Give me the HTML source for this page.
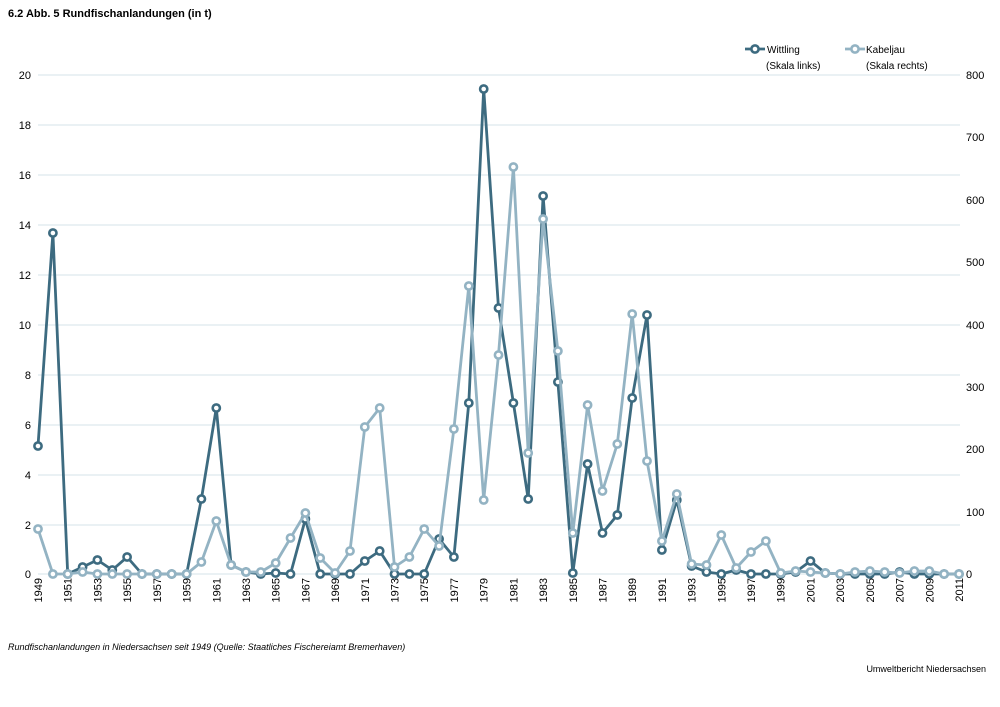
<!DOCTYPE html>
<html><head><meta charset="utf-8"><style>
body{margin:0;background:#fff;width:1000px;height:707px;overflow:hidden}
svg{display:block;font-family:"Liberation Sans",Arial,sans-serif}
</style></head><body>
<svg width="1000" height="707" viewBox="0 0 1000 707">
<defs>
<marker id="md" markerUnits="userSpaceOnUse" markerWidth="12" markerHeight="12" refX="6" refY="6"><circle cx="6" cy="6" r="3.6" fill="#fff" stroke="#3d6b80" stroke-width="2.6"/></marker>
<marker id="ml" markerUnits="userSpaceOnUse" markerWidth="12" markerHeight="12" refX="6" refY="6"><circle cx="6" cy="6" r="3.6" fill="#fff" stroke="#93b3c3" stroke-width="2.6"/></marker>
</defs>
<text x="8" y="17" font-size="11" font-weight="bold">6.2 Abb. 5 Rundfischanlandungen (in t)</text>
<g stroke="#d6e3ea" stroke-width="1">
<line x1="38" y1="75" x2="960" y2="75"/><line x1="38" y1="125" x2="960" y2="125"/><line x1="38" y1="175" x2="960" y2="175"/><line x1="38" y1="225" x2="960" y2="225"/><line x1="38" y1="275" x2="960" y2="275"/><line x1="38" y1="325" x2="960" y2="325"/><line x1="38" y1="375" x2="960" y2="375"/><line x1="38" y1="425" x2="960" y2="425"/><line x1="38" y1="475" x2="960" y2="475"/><line x1="38" y1="525" x2="960" y2="525"/><line x1="38" y1="574" x2="960" y2="574"/>
</g>
<g font-size="11" text-anchor="end">
<text x="31" y="79">20</text><text x="31" y="129">18</text><text x="31" y="179">16</text><text x="31" y="229">14</text><text x="31" y="279">12</text><text x="31" y="329">10</text><text x="31" y="379">8</text><text x="31" y="429">6</text><text x="31" y="479">4</text><text x="31" y="529">2</text><text x="31" y="578">0</text>
</g>
<g font-size="11">
<text x="966" y="79">800</text><text x="966" y="141">700</text><text x="966" y="204">600</text><text x="966" y="266">500</text><text x="966" y="329">400</text><text x="966" y="391">300</text><text x="966" y="453">200</text><text x="966" y="516">100</text><text x="966" y="578">0</text>
</g>
<polyline fill="none" stroke="#3d6b80" stroke-width="2.8" stroke-linejoin="round" marker-start="url(#md)" marker-mid="url(#md)" marker-end="url(#md)" points="38,446 52.9,233 67.7,574 82.6,567 97.4,560 112.3,570 127.1,557 142,574 156.8,574 171.7,574 186.6,574 201.4,499 216.3,408 231.1,565 246,572 260.8,574 275.7,573 290.5,574 305.4,519 320.2,574 335.1,574 350,574 364.8,561 379.7,551 394.5,574 409.4,574 424.2,574 439.1,539 453.9,557 468.8,403 483.7,89 498.5,308 513.4,403 528.2,499 543.1,196 557.9,382 572.8,573 587.6,464 602.5,533 617.3,515 632.2,398 647,315 661.9,550 676.8,500 691.6,566 706.5,572 721.3,574 736.2,570 751,574 765.9,574 780.7,574 795.6,572 810.5,561 825.3,573 840.2,574 855,574 869.9,574 884.7,574 899.6,572 914.4,574 929.3,574 944.1,574 959,574"/>
<polyline fill="none" stroke="#93b3c3" stroke-width="2.8" stroke-linejoin="round" marker-start="url(#ml)" marker-mid="url(#ml)" marker-end="url(#ml)" points="38,529 52.9,574 67.7,574 82.6,572 97.4,574 112.3,574 127.1,574 142,574 156.8,574 171.7,574 186.6,574 201.4,562 216.3,521 231.1,565 246,572 260.8,572 275.7,563 290.5,538 305.4,513 320.2,558 335.1,573 350,551 364.8,427 379.7,408 394.5,567 409.4,557 424.2,529 439.1,546 453.9,429 468.8,286 483.7,500 498.5,355 513.4,167 528.2,453 543.1,219 557.9,351 572.8,533 587.6,405 602.5,491 617.3,444 632.2,314 647,461 661.9,541 676.8,494 691.6,564 706.5,565 721.3,535 736.2,568 751,552 765.9,541 780.7,573 795.6,571 810.5,572 825.3,573 840.2,574 855,572 869.9,571 884.7,572 899.6,573 914.4,571 929.3,571 944.1,574 959,574"/>
<g font-size="11" text-anchor="end">
<text transform="translate(42,578) rotate(-90)">1949</text><text transform="translate(71.7,578) rotate(-90)">1951</text><text transform="translate(101.4,578) rotate(-90)">1953</text><text transform="translate(131.1,578) rotate(-90)">1955</text><text transform="translate(160.8,578) rotate(-90)">1957</text><text transform="translate(190.6,578) rotate(-90)">1959</text><text transform="translate(220.3,578) rotate(-90)">1961</text><text transform="translate(250,578) rotate(-90)">1963</text><text transform="translate(279.7,578) rotate(-90)">1965</text><text transform="translate(309.4,578) rotate(-90)">1967</text><text transform="translate(339.1,578) rotate(-90)">1969</text><text transform="translate(368.8,578) rotate(-90)">1971</text><text transform="translate(398.5,578) rotate(-90)">1973</text><text transform="translate(428.2,578) rotate(-90)">1975</text><text transform="translate(457.9,578) rotate(-90)">1977</text><text transform="translate(487.7,578) rotate(-90)">1979</text><text transform="translate(517.4,578) rotate(-90)">1981</text><text transform="translate(547.1,578) rotate(-90)">1983</text><text transform="translate(576.8,578) rotate(-90)">1985</text><text transform="translate(606.5,578) rotate(-90)">1987</text><text transform="translate(636.2,578) rotate(-90)">1989</text><text transform="translate(665.9,578) rotate(-90)">1991</text><text transform="translate(695.6,578) rotate(-90)">1993</text><text transform="translate(725.3,578) rotate(-90)">1995</text><text transform="translate(755,578) rotate(-90)">1997</text><text transform="translate(784.7,578) rotate(-90)">1999</text><text transform="translate(814.5,578) rotate(-90)">2001</text><text transform="translate(844.2,578) rotate(-90)">2003</text><text transform="translate(873.9,578) rotate(-90)">2005</text><text transform="translate(903.6,578) rotate(-90)">2007</text><text transform="translate(933.3,578) rotate(-90)">2009</text><text transform="translate(963,578) rotate(-90)">2011</text>
</g>
<line x1="745" y1="49" x2="765" y2="49" stroke="#3d6b80" stroke-width="2.8"/><circle cx="755" cy="49" r="3.6" fill="#fff" stroke="#3d6b80" stroke-width="2.6"/>
<text x="767" y="53" font-size="10">Wittling</text><text x="766" y="69" font-size="10">(Skala links)</text>
<line x1="845" y1="49" x2="865" y2="49" stroke="#93b3c3" stroke-width="2.8"/><circle cx="855" cy="49" r="3.6" fill="#fff" stroke="#93b3c3" stroke-width="2.6"/>
<text x="866" y="53" font-size="10">Kabeljau</text><text x="866" y="69" font-size="10">(Skala rechts)</text>
<text x="8" y="650" font-size="9" font-style="italic">Rundfischanlandungen in Niedersachsen seit 1949 (Quelle: Staatliches Fischereiamt Bremerhaven)</text>
<text x="986" y="672" font-size="9" text-anchor="end">Umweltbericht Niedersachsen</text>
</svg>
</body></html>
